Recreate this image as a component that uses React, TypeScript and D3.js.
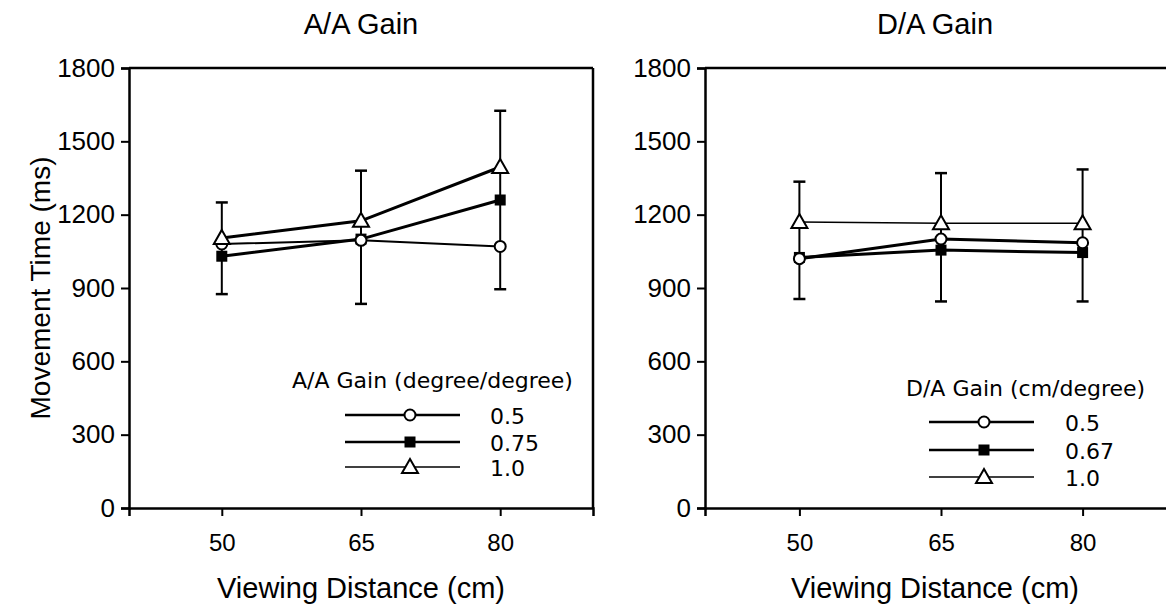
import React, { useEffect, useRef } from 'react'
import * as d3 from 'd3'

// viewing distance (cm)
const distances = [50, 65, 80]
const yTicks = [0, 300, 600, 900, 1200, 1500, 1800]

// A/A gain panel (movement time, ms)
const aaGain05 = [1080, 1095, 1070]
const aaGain075 = [1030, 1100, 1260]
const aaGain10 = [1105, 1175, 1395]
const aaErrHigh = [1250, 1380, 1625]
const aaErrLow = [875, 835, 895]
const aaLegendLabels = ['0.5', '0.75', '1.0']

// D/A gain panel (movement time, ms)
const daGain05 = [1020, 1100, 1085]
const daGain067 = [1025, 1055, 1045]
const daGain10 = [1170, 1165, 1165]
const daErrHigh = [1335, 1370, 1385]
const daErrLow = [855, 845, 845]
const daLegendLabels = ['0.5', '0.67', '1.0']

type Marker = 'circle' | 'square' | 'triangle'

interface Series {
  values: number[]
  marker: Marker
  width: number
}

interface Panel {
  title: string
  legendTitle: string
  legendLabels: string[]
  series: Series[]
  errHigh: number[]
  errLow: number[]
  left: number
  right: number
  closed: boolean
  legend: { titleX: number; titleY: number; rowY: number[]; x0: number; x1: number; mx: number; textX: number }
}

const panels: Panel[] = [
  {
    title: 'A/A Gain',
    legendTitle: 'A/A Gain (degree/degree)',
    legendLabels: aaLegendLabels,
    series: [
      { values: aaGain05, marker: 'circle', width: 2 },
      { values: aaGain075, marker: 'square', width: 3 },
      { values: aaGain10, marker: 'triangle', width: 3 },
    ],
    errHigh: aaErrHigh,
    errLow: aaErrLow,
    left: 129,
    right: 593,
    closed: true,
    legend: { titleX: 292, titleY: 388, rowY: [415, 442, 467], x0: 345, x1: 460, mx: 410, textX: 490 },
  },
  {
    title: 'D/A Gain',
    legendTitle: 'D/A Gain (cm/degree)',
    legendLabels: daLegendLabels,
    series: [
      { values: daGain05, marker: 'circle', width: 3 },
      { values: daGain067, marker: 'square', width: 3 },
      { values: daGain10, marker: 'triangle', width: 1.5 },
    ],
    errHigh: daErrHigh,
    errLow: daErrLow,
    left: 705,
    right: 1177,
    closed: false,
    legend: { titleX: 906, titleY: 396, rowY: [422, 450, 477], x0: 929, x1: 1034, mx: 984, textX: 1065 },
  },
]

const top = 68
const bottom = 508
const sans = '"Liberation Sans", Arial, sans-serif'
const legendFont = '"DejaVu Sans", sans-serif'
// squares sit under the open markers where they overlap
const markerOrder: Marker[] = ['square', 'circle', 'triangle']

function drawMarker(g: d3.Selection<SVGGElement, unknown, null, undefined>, m: Marker, x: number, y: number) {
  if (m === 'circle') {
    g.append('circle').attr('cx', x).attr('cy', y).attr('r', 5.5)
      .attr('fill', 'white').attr('stroke', 'black').attr('stroke-width', 2)
  } else if (m === 'square') {
    g.append('rect').attr('x', x - 5.5).attr('y', y - 5.5).attr('width', 11).attr('height', 11)
      .attr('fill', 'black')
  } else {
    g.append('path')
      .attr('d', `M${x},${y - 8}L${x + 8},${y + 6}L${x - 8},${y + 6}Z`)
      .attr('fill', 'white').attr('stroke', 'black').attr('stroke-width', 2)
  }
}

export default function App() {
  const svgRef = useRef<SVGSVGElement>(null)

  useEffect(() => {
    if (!svgRef.current) return
    const svg = d3.select(svgRef.current)
    svg.selectAll('*').remove()

    const yScale = d3.scaleLinear().domain([0, 1800]).range([bottom, top])

    // shared y label
    svg.append('text')
      .attr('transform', `translate(50,${(top + bottom) / 2}) rotate(-90)`)
      .attr('text-anchor', 'middle')
      .style('font-family', sans)
      .style('font-size', '28px')
      .text('Movement Time (ms)')

    panels.forEach((p) => {
      const xScale = d3.scaleLinear().domain([40, 90]).range([p.left, p.right])
      const cx = (p.left + p.right) / 2 - (p.closed ? 0 : 6)
      const g = svg.append('g')

      // frame
      g.append('line').attr('x1', p.left).attr('x2', p.right).attr('y1', top).attr('y2', top)
        .attr('stroke', 'black').attr('stroke-width', 2.5)
      if (p.closed) {
        g.append('line').attr('x1', p.right).attr('x2', p.right).attr('y1', top).attr('y2', bottom)
          .attr('stroke', 'black').attr('stroke-width', 2.5)
      }

      // axes
      const yAxis = g.append('g')
        .attr('transform', `translate(${p.left},0)`)
        .call(d3.axisLeft(yScale).tickValues(yTicks).tickSize(8).tickPadding(6).tickFormat(d3.format('d')))
      const xAxis = g.append('g')
        .attr('transform', `translate(0,${bottom})`)
        .call(d3.axisBottom(xScale).tickValues(distances).tickSize(8).tickPadding(18))
      ;[yAxis, xAxis].forEach((a) => {
        a.select('.domain').attr('stroke-width', 2.5)
        a.selectAll('line').attr('stroke-width', 2)
        a.selectAll('text').style('font-family', sans).attr('fill', 'black')
      })
      yAxis.selectAll('text').style('font-size', '26px')
      xAxis.selectAll('text').style('font-size', '24px')

      // titles
      g.append('text').attr('x', cx).attr('y', 34).attr('text-anchor', 'middle')
        .style('font-family', sans).style('font-size', '29px').text(p.title)
      g.append('text').attr('x', cx).attr('y', 598).attr('text-anchor', 'middle')
        .style('font-family', sans).style('font-size', '29px').text('Viewing Distance (cm)')

      // error bars
      distances.forEach((d, i) => {
        const x = xScale(d)
        g.append('line').attr('x1', x).attr('x2', x)
          .attr('y1', yScale(p.errHigh[i])).attr('y2', yScale(p.errLow[i]))
          .attr('stroke', 'black').attr('stroke-width', 2)
        ;[p.errHigh[i], p.errLow[i]].forEach((v) => {
          g.append('line').attr('x1', x - 6).attr('x2', x + 6)
            .attr('y1', yScale(v)).attr('y2', yScale(v))
            .attr('stroke', 'black').attr('stroke-width', 2.5)
        })
      })

      // lines
      const line = d3.line<number>().x((_, i) => xScale(distances[i])).y((v) => yScale(v))
      p.series.forEach((s) => {
        g.append('path').datum(s.values).attr('d', line)
          .attr('fill', 'none').attr('stroke', 'black').attr('stroke-width', s.width)
      })
      markerOrder.forEach((m) => {
        p.series.filter((s) => s.marker === m).forEach((s) => {
          s.values.forEach((v, i) => drawMarker(g, s.marker, xScale(distances[i]), yScale(v)))
        })
      })

      // legend
      const L = p.legend
      g.append('text').attr('x', L.titleX).attr('y', L.titleY)
        .style('font-family', legendFont).style('font-size', '22px').text(p.legendTitle)
      p.series.forEach((s, i) => {
        const y = L.rowY[i]
        g.append('line').attr('x1', L.x0).attr('x2', L.x1).attr('y1', y).attr('y2', y)
          .attr('stroke', 'black').attr('stroke-width', i === 2 ? 1.5 : 2.5)
        drawMarker(g, s.marker, L.mx, y)
        g.append('text').attr('x', L.textX).attr('y', y + 9)
          .style('font-family', legendFont).style('font-size', '22px').text(p.legendLabels[i])
      })
    })
  }, [])

  return (
    <svg
      ref={svgRef}
      width={1166}
      height={611}
      style={{ position: 'absolute', left: 0, top: 0, background: 'white' }}
    />
  )
}
